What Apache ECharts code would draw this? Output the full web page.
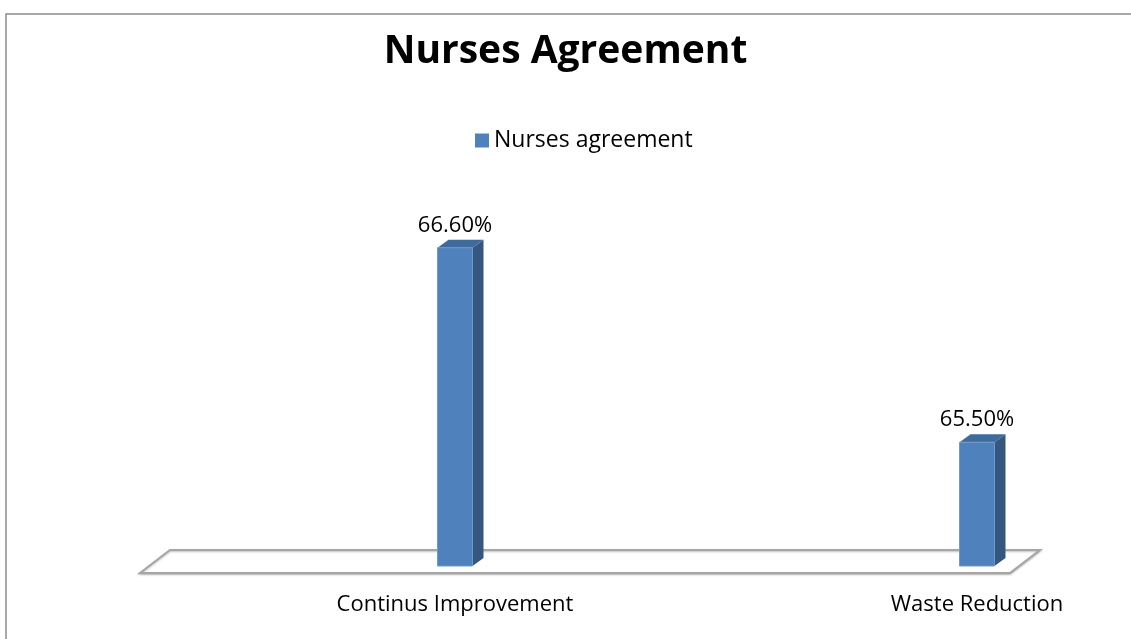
<!DOCTYPE html>
<html>
<head>
<meta charset="utf-8">
<title>Nurses Agreement</title>
<script src="https://cdn.jsdelivr.net/npm/echarts@6/dist/echarts.min.js"></script>
<style>
  html, body { margin: 0; padding: 0; background: #fff; }
  #chart { width: 1131px; height: 639px; }
</style>
</head>
<body>
<div id="chart"></div>
<script>
const categories = ['Continus Improvement', 'Waste Reduction']
const agreement = [66.6, 65.5]
const seriesName = 'Nurses agreement'
const yMin = 64.8
const yMax = 67.0

const font = '"Open Sans", "Noto Sans", sans-serif'
const front = '#4f81bd'
const side = '#34567f'
const topFace = '#3f6a9c'

const chart = echarts.init(document.getElementById('chart'))

// 3D-ish bar: front face, right side and top, like the old office charts
const renderBar = (params, api) => {
  const base = api.coord([api.value(0), yMin])
  const top = api.coord([api.value(0), api.value(1)])
  const half = 17.5
  const dx = 11
  const dy = 8
  const cx = top[0]
  return {
    type: 'group',
    children: [
      {
        type: 'polygon',
        shape: { points: [[cx + half, top[1]], [cx + half + dx, top[1] - dy], [cx + half + dx, base[1] - dy], [cx + half, base[1]]] },
        style: { fill: side }
      },
      {
        type: 'polygon',
        shape: { points: [[cx - half, top[1]], [cx - half + dx, top[1] - dy], [cx + half + dx, top[1] - dy], [cx + half, top[1]]] },
        style: { fill: topFace }
      },
      {
        type: 'rect',
        shape: { x: cx - half, y: top[1], width: half * 2, height: base[1] - top[1] },
        style: { fill: front, stroke: '#6f99cc', lineWidth: 1 }
      },
      {
        type: 'text',
        x: cx,
        y: top[1] - 11,
        style: {
          text: api.value(1).toFixed(2) + '%',
          fill: '#000',
          font: '22px ' + font,
          align: 'center',
          verticalAlign: 'bottom'
        }
      }
    ]
  }
}

// the flat floor the bars stand on
const renderFloor = (params, api) => {
  const cs = params.coordSys
  const by = cs.y + cs.height
  const x0 = cs.x - 315
  const x1 = cs.x + cs.width + 33
  return {
    type: 'polygon',
    shape: { points: [[x0, by + 7], [x0 + 30, by - 16], [x1 + 30, by - 16], [x1, by + 7]] },
    style: { fill: '#fff', stroke: '#a6a6a6', lineWidth: 2, shadowColor: 'rgba(0,0,0,0.25)', shadowBlur: 2, shadowOffsetY: 1 }
  }
}

chart.setOption({
  animation: false,
  title: {
    text: 'Nurses Agreement',
    left: 'center',
    top: 27,
    textStyle: { fontFamily: font, fontSize: 39, fontWeight: 'bold', color: '#000' }
  },
  legend: {
    data: [seriesName],
    top: 124,
    left: 470,
    icon: 'rect',
    itemWidth: 14,
    itemHeight: 14,
    itemGap: 4,
    textStyle: { fontFamily: font, fontSize: 23, color: '#000' }
  },
  graphic: [
    {
      type: 'rect',
      shape: { x: 6, y: 14, width: 1140, height: 640 },
      style: { fill: 'none', stroke: '#8c8c8c', lineWidth: 1.5 },
      silent: true
    }
  ],
  grid: { left: 455, right: 154, top: 177, bottom: 73 },
  xAxis: {
    type: 'category',
    data: categories,
    boundaryGap: false,
    axisLine: { show: false },
    axisTick: { show: false },
    axisLabel: { margin: 28, fontFamily: font, fontSize: 22, color: '#000' }
  },
  yAxis: {
    type: 'value',
    min: yMin,
    max: yMax,
    show: false,
    splitLine: { show: false }
  },
  series: [
    {
      name: 'floor',
      type: 'custom',
      renderItem: renderFloor,
      data: [[0, yMin]],
      silent: true,
      z: 1
    },
    {
      name: seriesName,
      type: 'custom',
      renderItem: renderBar,
      itemStyle: { color: front },
      encode: { x: 0, y: 1 },
      data: categories.map((c, i) => [i, agreement[i]]),
      z: 2
    }
  ]
})
</script>
</body>
</html>
